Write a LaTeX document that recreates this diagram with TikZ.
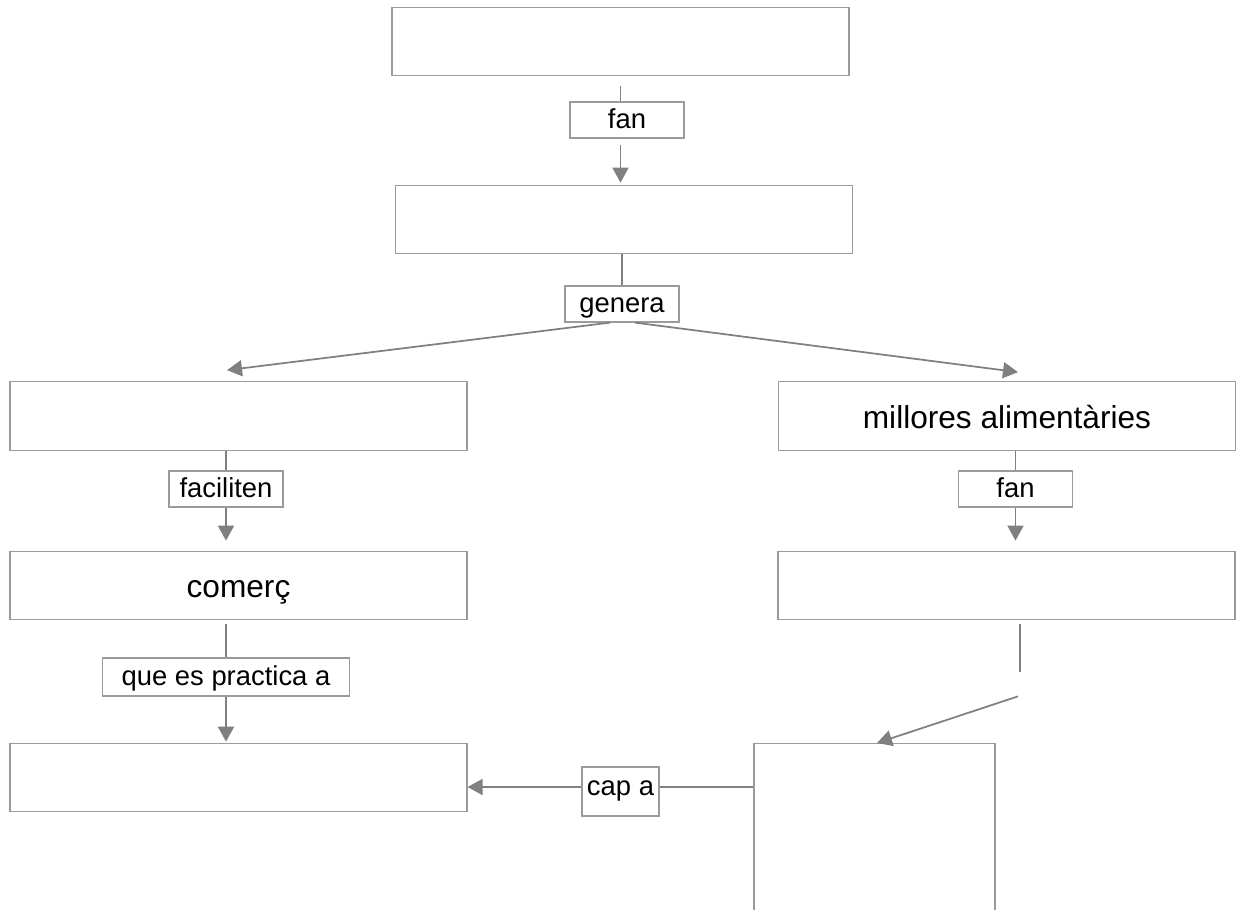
\documentclass[tikz,border=0pt]{standalone}
\usepackage{fontspec}
\setmainfont{Liberation Sans}
\usetikzlibrary{arrows.meta}
\definecolor{linegray}{RGB}{128,128,128}
\definecolor{boxgray}{RGB}{155,155,155}
\begin{document}
\begin{tikzpicture}[
x=0.02cm, y=-0.02cm,
concept/.style={rectangle, draw=boxgray, line width=0.7pt, minimum width=9.14cm, minimum height=1.37cm, text height=18pt, text depth=4pt, font=\fontsize{18}{22}\selectfont},
verb/.style={rectangle, draw=boxgray, line width=0.7pt, minimum width=2.28cm, minimum height=0.72cm, inner sep=2pt, text height=11pt, text depth=1pt, font=\fontsize{15.6}{19}\selectfont},
conn/.style={draw=linegray, line width=1pt},
connarrow/.style={conn, -{Triangle[length=0.3cm, width=0.32cm]}}
]
\clip (0,0) rectangle (1242,910);
% concepts
\node[concept] (topbox) at (620.5,41.5) {};
\node[concept] (secbox) at (624,219.5) {};
\node[concept] (leftA) at (238.5,416) {};
\node[concept] (rightA) at (1007,416) {millores alimentàries};
\node[concept] (comerc) at (238.5,585.5) {comerç};
\node[concept] (rightB) at (1006.5,585.5) {};
\node[concept] (leftC) at (238.5,777.5) {};
\node[concept, minimum width=4.82cm, minimum height=6cm, anchor=north] (lowbox) at (874.5,743) {};
% linking words
\node[verb] (fanA) at (627,120) {fan};
\node[verb] (genera) at (622,304) {genera};
\node[verb] (faciliten) at (226,489) {faciliten};
\node[verb] (fanB) at (1015.5,489) {fan};
\node[verb, minimum width=4.94cm, minimum height=0.76cm] (practicaA) at (226,677) {que es practica a};
\node[inner sep=0, minimum height=0.48cm] (blank) at (1020,684) {};
\node[verb, minimum width=1.54cm, minimum height=0.98cm, text depth=7pt] (capa) at (620.5,791.5) {cap a};
% connectors
\draw[conn, shorten <=0.2cm] (topbox.south) -- (topbox.south |- fanA.north);
\draw[connarrow, shorten <=0.12cm, shorten >=0.04cm] (topbox.south |- fanA.south) -- (topbox.south |- secbox.north);
\draw[conn] (genera.north |- secbox.south) -- (genera.north);
\draw[connarrow] ([xshift=-0.24cm]genera.south) -- ([shift={(-11.5,-11)}]leftA.north);
\draw[connarrow] ([xshift=0.26cm]genera.south) -- ([shift={(11,-9)}]rightA.north);
\draw[conn] (faciliten.north |- leftA.south) -- (faciliten.north);
\draw[connarrow, shorten >=0.2cm] (faciliten.south) -- (faciliten.south |- comerc.north);
\draw[conn] (fanB.north |- rightA.south) -- (fanB.north);
\draw[connarrow, shorten >=0.2cm] (fanB.south) -- (fanB.south |- rightB.north);
\draw[conn, shorten <=0.08cm] (practicaA.north |- comerc.south) -- (practicaA.north);
\draw[connarrow, shorten >=0.02cm] (practicaA.south) -- (practicaA.south |- leftC.north);
\draw[conn, shorten <=0.08cm] (blank.north |- rightB.south) -- (blank.north);
\draw[connarrow] ([xshift=-0.04cm]blank.south) -- ([xshift=0.05cm]lowbox.north);
\coordinate (capaline) at (620,787);
\draw[conn] (capaline -| lowbox.west) -- (capaline -| capa.east);
\draw[connarrow] (capaline -| capa.west) -- (capaline -| leftC.east);
\end{tikzpicture}
\end{document}
